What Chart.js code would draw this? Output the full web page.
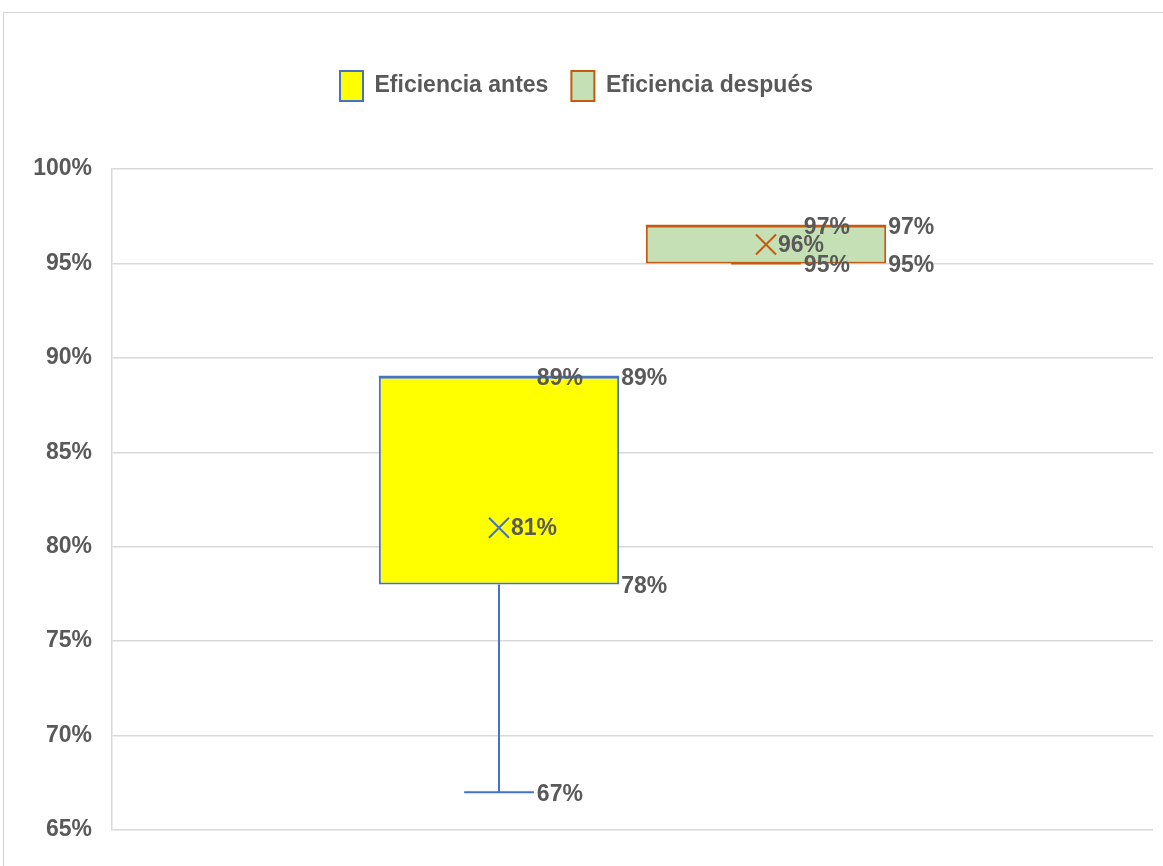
<!DOCTYPE html>
<html>
<head>
<meta charset="utf-8">
<script src="https://cdn.jsdelivr.net/npm/chart.js@4.4.0/dist/chart.umd.min.js"></script>
<style>
    body { margin: 0; background: #fff; overflow: hidden; }
    #frame { position: absolute; left: 3px; top: 12px; width: 1200px; height: 900px; border-left: 1px solid #d4d4d4; border-top: 1px solid #d4d4d4; }
    #wrap { position: absolute; left: 0; top: 0; width: 1163px; height: 866px; }
</style>
</head>
<body>
<div id="frame"></div>
<div id="wrap"><canvas id="chartCanvas"></canvas></div>
<script>
const seriesNames = ['Eficiencia antes', 'Eficiencia después'];
const minVals = [67, 95];
const q1Vals = [78, 95];
const medianVals = [89, 97];
const q3Vals = [89, 97];
const maxVals = [89, 97];
const meanVals = [81, 96];
const yTicks = [65, 70, 75, 80, 85, 90, 95, 100];

const fillColors = ['#ffff00', '#c5e0b4'];
const lineColors = ['#4472c4', '#c55a11'];
const textGray = '#595959';
const fontFamily = "'Liberation Sans', Arial, sans-serif";

// bigotes, media y etiquetas del diagrama de caja
const boxPlotExtras = {
    id: 'boxPlotExtras',
    afterDatasetsDraw(chart) {
        const ctx = chart.ctx;
        const y = chart.scales.y;
        ctx.save();
        chart.data.datasets.forEach((ds, i) => {
            const bar = chart.getDatasetMeta(i).data[0];
            const cx = bar.x;
            const half = bar.width / 2;
            const capHalf = bar.width * 0.145;
            const col = lineColors[i];
            ctx.strokeStyle = col;
            ctx.lineWidth = 2;

            const yMin = y.getPixelForValue(minVals[i]);
            const yMax = y.getPixelForValue(maxVals[i]);
            const yQ1 = y.getPixelForValue(q1Vals[i]);
            const yQ3 = y.getPixelForValue(q3Vals[i]);
            const yMed = y.getPixelForValue(medianVals[i]);
            const yMean = y.getPixelForValue(meanVals[i]);

            ctx.beginPath();
            ctx.moveTo(cx, yQ1); ctx.lineTo(cx, yMin);
            ctx.moveTo(cx, yQ3); ctx.lineTo(cx, yMax);
            ctx.moveTo(cx - capHalf, yMin); ctx.lineTo(cx + capHalf, yMin);
            ctx.moveTo(cx - capHalf, yMax); ctx.lineTo(cx + capHalf, yMax);
            ctx.moveTo(cx - half, yMed); ctx.lineTo(cx + half, yMed);
            ctx.stroke();

            // marca de la media (X)
            const m = 10;
            ctx.beginPath();
            ctx.moveTo(cx - m, yMean - m); ctx.lineTo(cx + m, yMean + m);
            ctx.moveTo(cx - m, yMean + m); ctx.lineTo(cx + m, yMean - m);
            ctx.stroke();

            ctx.fillStyle = textGray;
            ctx.font = 'bold 23px ' + fontFamily;
            ctx.textAlign = 'left';
            ctx.textBaseline = 'middle';
            const fmt = v => v + '%';
            ctx.fillText(fmt(maxVals[i]), cx + capHalf + 3, yMax + 2);
            ctx.fillText(fmt(minVals[i]), cx + capHalf + 3, yMin + 2);
            ctx.fillText(fmt(q3Vals[i]), cx + half + 2, yQ3 + 2);
            ctx.fillText(fmt(q1Vals[i]), cx + half + 2, yQ1 + 2);
            ctx.fillText(fmt(meanVals[i]), cx + 12, yMean + 1);
        });
        ctx.restore();
    }
};

const ctx = document.getElementById('chartCanvas').getContext('2d');

const chart = new Chart(ctx, {
    type: 'bar',
    data: {
        labels: [''],
        datasets: seriesNames.map((name, i) => ({
            label: name,
            data: [[q1Vals[i], q3Vals[i]]],
            backgroundColor: fillColors[i],
            borderColor: lineColors[i],
            borderWidth: 2,
            borderSkipped: false,
            barPercentage: 0.9,
            categoryPercentage: 0.513
        }))
    },
    options: {
        responsive: true,
        maintainAspectRatio: false,
        animation: false,
        layout: { padding: { top: 48, right: 10, bottom: 36, left: 0 } },
        plugins: {
            legend: {
                display: true,
                position: 'top',
                labels: {
                    color: textGray,
                    font: { family: fontFamily, size: 23, weight: 'bold' },
                    boxWidth: 23,
                    boxHeight: 30,
                    padding: 23
                }
            },
            // espacio vacío entre la leyenda y el área del gráfico
            subtitle: {
                display: true,
                text: ' ',
                weight: 500,
                font: { size: 10 },
                padding: { top: 0, bottom: 46 }
            },
            tooltip: { enabled: false }
        },
        scales: {
            x: {
                display: false,
                grid: { display: false }
            },
            y: {
                min: 65,
                max: 100,
                afterBuildTicks: s => { s.ticks = yTicks.map(v => ({ value: v })); },
                afterFit: s => { s.width = 112; },
                ticks: {
                    color: textGray,
                    padding: 20,
                    font: { family: fontFamily, size: 23, weight: 'bold' },
                    callback: v => v + '%'
                },
                grid: { color: '#d9d9d9', lineWidth: 1.5, drawTicks: false },
                border: { display: true, color: '#d9d9d9', width: 1.5 }
            }
        }
    },
    plugins: [boxPlotExtras]
});
</script>
</body>
</html>
